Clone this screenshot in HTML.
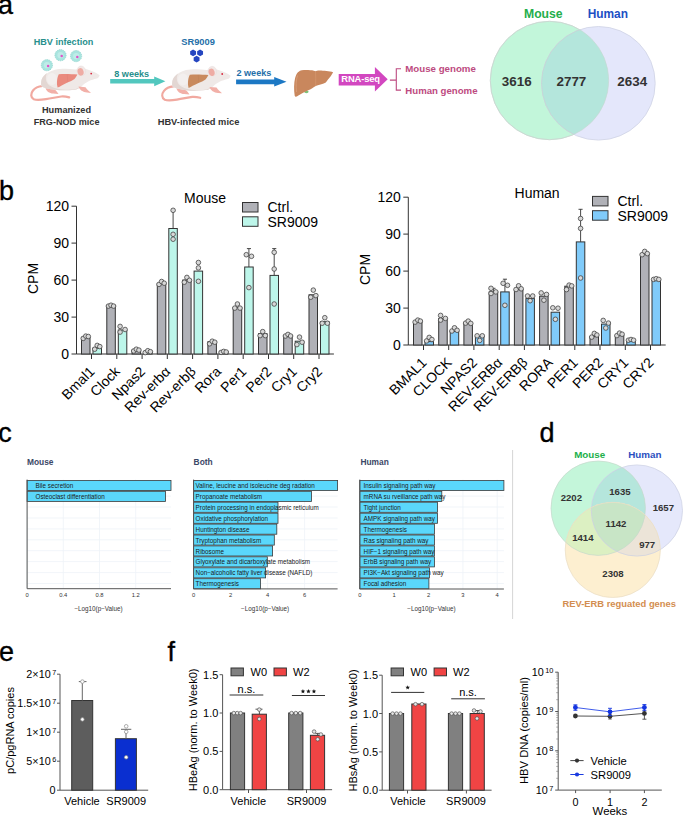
<!DOCTYPE html>
<html><head><meta charset="utf-8"><style>
html,body{margin:0;padding:0;background:#fff;overflow:hidden;}
svg{display:block;}
text{font-family:"Liberation Sans", sans-serif;}
</style></head><body>
<svg width="685" height="815" viewBox="0 0 685 815" font-family="Liberation Sans, sans-serif">
<rect width="685" height="815" fill="#fff"/>
<text x="-2.0" y="13.9" font-size="27" text-anchor="start" font-weight="normal" fill="#000" stroke="#000" stroke-width="0.35">a</text>
<text x="-1.0" y="199.5" font-size="27" text-anchor="start" font-weight="normal" fill="#000" stroke="#000" stroke-width="0.35">b</text>
<text x="-1.8" y="441.7" font-size="27" text-anchor="start" font-weight="normal" fill="#000" stroke="#000" stroke-width="0.35">c</text>
<text x="539.5" y="441.7" font-size="27" text-anchor="start" font-weight="normal" fill="#000" stroke="#000" stroke-width="0.35">d</text>
<text x="-1.0" y="661.0" font-size="27" text-anchor="start" font-weight="normal" fill="#000" stroke="#000" stroke-width="0.35">e</text>
<text x="167.5" y="660.5" font-size="27" text-anchor="start" font-weight="normal" fill="#000" stroke="#000" stroke-width="0.35">f</text>
<text x="63.5" y="45.3" font-size="9.1" text-anchor="middle" font-weight="bold" fill="#278f8c" >HBV infection</text>
<circle cx="46.9" cy="65.2" r="5.6" fill="#a9e4df" stroke="#8fd3cc" stroke-width="0.8" stroke-dasharray="1.2 0.8"/>
<circle cx="46.9" cy="65.2" r="3.08" fill="#bfece8"/>
<circle cx="48.1" cy="66.0" r="1.25" fill="#e052c8"/>
<circle cx="60.5" cy="55.2" r="5.6" fill="#a9e4df" stroke="#8fd3cc" stroke-width="0.8" stroke-dasharray="1.2 0.8"/>
<circle cx="60.5" cy="55.2" r="3.08" fill="#bfece8"/>
<circle cx="61.7" cy="56.0" r="1.25" fill="#e052c8"/>
<circle cx="76.1" cy="56.1" r="5.6" fill="#a9e4df" stroke="#8fd3cc" stroke-width="0.8" stroke-dasharray="1.2 0.8"/>
<circle cx="76.1" cy="56.1" r="3.08" fill="#bfece8"/>
<circle cx="77.3" cy="56.9" r="1.25" fill="#e052c8"/>
<g transform="translate(0,0)">
<path d="M42.5,86 C38,86.5 35,88 33,90.5 C30.5,93.5 30.5,97.5 33.8,99.3 C37,100.5 42,99.8 46,99.2 C52,98.3 57,97 61.3,96.5 C64,96.3 67,96.8 69.2,97.4" fill="none" stroke="#f1a9a0" stroke-width="2.2" stroke-linecap="round"/>
<path d="M45.5,87.5 C46,91.5 49.5,93.3 53,93.6 L58.6,94 C57.5,92.2 56,90.6 54.5,89 Z" fill="#f2b0a8"/>
<path d="M41.3,85.9 C40.5,81 41.5,78.5 43.5,77 C46,73.5 50,71 55,69.7 C60,68.7 68,68.5 75.7,69.5 C78,68.8 80,68.5 82,69 C84,68.5 86,68.8 87.5,69.5 C91,70.5 96,72.5 99.6,75.3 C99.2,77 97.8,78.3 96.8,78.6 C94,79.5 91,80 89,81 C86,82.5 84,84 82,86 C80,88 77,89.5 74.6,89.7 C68,90.5 61,90.5 55,89.8 C49,89 44,88 41.3,85.9 Z" fill="#efe9e7"/>
<path d="M41.3,85.9 C40.6,80 42.5,76 47,73 C45,77.5 45.5,82 49.5,85.5 C54,88.5 61,89.6 68,89.8 C74,89.8 78,88.5 81,86.5 C79,88.5 77,89.5 74.6,89.7 C68,90.5 61,90.5 55,89.8 C49,89 44,88 41.3,85.9 Z" fill="#e3d7d3"/>
<ellipse cx="52" cy="79" rx="5" ry="6" fill="#f3efee"/>
<path d="M58.8,74.3 C65,73.9 72,74.2 77.4,74.6 C76.5,76.5 75.5,78 74.5,79 C72.5,80.5 70,81.5 67.5,82.5 C65.5,83.5 63.5,84.5 61.7,85.4 C60.3,86.2 59,87 57.6,87.5 C57,85.5 56.8,83.5 57,81.4 C57.2,79 57.6,76.5 58.8,74.3 Z" fill="#ea8a7e"/>
<path d="M67.2,74.3 C67.6,77 67.6,80 67.3,82.5" fill="none" stroke="#000" stroke-opacity="0.06" stroke-width="0.6"/>
<path d="M78.5,86.5 C79.5,90 83,92 87,92.6 L91,92.9 C89.5,91.5 87,89.8 85.5,87.2 Z" fill="#f2b0a8"/>
<ellipse cx="81.4" cy="70.8" rx="4.2" ry="4.9" fill="#f1e8e7" stroke="#e6dcda" stroke-width="0.4" transform="rotate(-15 81.4 70.8)"/>
<ellipse cx="80.6" cy="71.9" rx="3.0" ry="3.8" fill="#eeaca4" transform="rotate(-15 80.6 71.9)"/>
<circle cx="91.2" cy="73.6" r="0.9" fill="#d8283e"/>
</g>
<text x="66.5" y="112.8" font-size="9.2" text-anchor="middle" font-weight="bold" fill="#333" >Humanized</text>
<text x="66.6" y="125.4" font-size="9.1" text-anchor="middle" font-weight="bold" fill="#333" >FRG-NOD mice</text>
<path d="M110.2,79 L154.2,79 L154.2,76.6 L165.4,81.3 L154.2,86.2 L154.2,83.6 L110.2,83.6 Z" fill="#52c7be"/>
<text x="131.7" y="77.0" font-size="9.1" text-anchor="middle" font-weight="bold" fill="#278f8c" >8 weeks</text>
<text x="198.1" y="45.3" font-size="9.3" text-anchor="middle" font-weight="bold" fill="#1f6fa8" >SR9009</text>
<polygon points="196.04,54.60 193.10,56.30 190.16,54.60 190.16,51.20 193.10,49.50 196.04,51.20" fill="#2546c0"/>
<polygon points="203.04,54.60 200.10,56.30 197.16,54.60 197.16,51.20 200.10,49.50 203.04,51.20" fill="#2546c0"/>
<polygon points="199.54,60.80 196.60,62.50 193.66,60.80 193.66,57.40 196.60,55.70 199.54,57.40" fill="#2546c0"/>
<g transform="translate(131,0.4)">
<path d="M42.5,86 C38,86.5 35,88 33,90.5 C30.5,93.5 30.5,97.5 33.8,99.3 C37,100.5 42,99.8 46,99.2 C52,98.3 57,97 61.3,96.5 C64,96.3 67,96.8 69.2,97.4" fill="none" stroke="#f1a9a0" stroke-width="2.2" stroke-linecap="round"/>
<path d="M45.5,87.5 C46,91.5 49.5,93.3 53,93.6 L58.6,94 C57.5,92.2 56,90.6 54.5,89 Z" fill="#f2b0a8"/>
<path d="M41.3,85.9 C40.5,81 41.5,78.5 43.5,77 C46,73.5 50,71 55,69.7 C60,68.7 68,68.5 75.7,69.5 C78,68.8 80,68.5 82,69 C84,68.5 86,68.8 87.5,69.5 C91,70.5 96,72.5 99.6,75.3 C99.2,77 97.8,78.3 96.8,78.6 C94,79.5 91,80 89,81 C86,82.5 84,84 82,86 C80,88 77,89.5 74.6,89.7 C68,90.5 61,90.5 55,89.8 C49,89 44,88 41.3,85.9 Z" fill="#efe9e7"/>
<path d="M41.3,85.9 C40.6,80 42.5,76 47,73 C45,77.5 45.5,82 49.5,85.5 C54,88.5 61,89.6 68,89.8 C74,89.8 78,88.5 81,86.5 C79,88.5 77,89.5 74.6,89.7 C68,90.5 61,90.5 55,89.8 C49,89 44,88 41.3,85.9 Z" fill="#e3d7d3"/>
<ellipse cx="52" cy="79" rx="5" ry="6" fill="#f3efee"/>
<path d="M58.8,74.3 C65,73.9 72,74.2 77.4,74.6 C76.5,76.5 75.5,78 74.5,79 C72.5,80.5 70,81.5 67.5,82.5 C65.5,83.5 63.5,84.5 61.7,85.4 C60.3,86.2 59,87 57.6,87.5 C57,85.5 56.8,83.5 57,81.4 C57.2,79 57.6,76.5 58.8,74.3 Z" fill="#c98a5e"/>
<path d="M67.2,74.3 C67.6,77 67.6,80 67.3,82.5" fill="none" stroke="#000" stroke-opacity="0.06" stroke-width="0.6"/>
<path d="M78.5,86.5 C79.5,90 83,92 87,92.6 L91,92.9 C89.5,91.5 87,89.8 85.5,87.2 Z" fill="#f2b0a8"/>
<ellipse cx="81.4" cy="70.8" rx="4.2" ry="4.9" fill="#f1e8e7" stroke="#e6dcda" stroke-width="0.4" transform="rotate(-15 81.4 70.8)"/>
<ellipse cx="80.6" cy="71.9" rx="3.0" ry="3.8" fill="#eeaca4" transform="rotate(-15 80.6 71.9)"/>
<circle cx="91.2" cy="73.6" r="0.9" fill="#d8283e"/>
</g>
<text x="198.5" y="124.8" font-size="9.3" text-anchor="middle" font-weight="bold" fill="#333" >HBV-infected mice</text>
<path d="M236.1,79.4 L274.2,79.4 L274.2,77 L286.5,81.8 L274.2,86.6 L274.2,84.2 L236.1,84.2 Z" fill="#1c78c4"/>
<text x="253.9" y="76.0" font-size="9.1" text-anchor="middle" font-weight="bold" fill="#1f6fa8" >2 weeks</text>
<ellipse cx="306.4" cy="91.8" rx="2.2" ry="1.4" fill="#7cc37a"/>
<path d="M294.7,95.7 C293.8,90 293.9,83 295.1,78.1 C296,75 297,73 298,72.3 C299.5,71 300.5,70.5 301.7,70.3 C304,69.9 306,69.9 308.2,70 C311,70.2 313.5,70.4 315.5,71.2 C316.5,70.7 317.5,70.5 319.2,70.5 C322,70.5 324,70.7 326.5,71 C329,71.3 331.5,71.6 333.1,72.3 C332.5,73.5 331.8,74.8 330.9,76 C330,77.3 329,78.5 328,79.6 C327.3,80.7 326.6,81.8 325.8,82.5 C324.5,83.3 323,83.9 321.4,84.3 C319.5,84.8 317.9,85.3 316.3,85.8 C314.7,86.6 313.3,87.5 311.9,88.4 C310.7,89.1 309.5,89.8 308.2,90.3 C306.5,91 304.8,91.8 303.1,92.7 C301.4,93.6 299.7,94.7 298,95.7 C297.2,96.2 296.4,96.6 295.5,96.8 C295.1,96.5 294.8,96.1 294.7,95.7 Z" fill="#c9875d"/>
<path d="M315.5,71.4 C315.8,76 315.8,81 315.6,86" fill="none" stroke="#d69a72" stroke-width="0.6"/>
<path d="M296.5,92 C295.8,86 296,80 297.5,75.5" fill="none" stroke="#d9a07a" stroke-width="0.8"/>
<path d="M338.7,73.9 L374.9,73.9 L374.9,66.9 L387.7,79.2 L374.9,91.4 L374.9,85.5 L338.7,85.5 Z" fill="#d247c0"/>
<text x="360.6" y="82.4" font-size="9.4" text-anchor="middle" font-weight="bold" fill="#fff" letter-spacing="-0.15">RNA-seq</text>
<path d="M389.9,80.1 L396.3,80.1 M401,68.8 L396.3,68.8 L396.3,90.1 L401,90.1" fill="none" stroke="#bd4a80" stroke-width="1.1"/>
<text x="405.3" y="71.9" font-size="9.7" text-anchor="start" font-weight="bold" fill="#bd4a80" >Mouse genome</text>
<text x="405.3" y="93.6" font-size="9.65" text-anchor="start" font-weight="bold" fill="#bd4a80" >Human genome</text>
<circle cx="549.5" cy="80.5" r="59.2" fill="#c2f6da" stroke="#cfd8d4" stroke-width="0.8"/>
<circle cx="598.4" cy="83.3" r="56.8" fill="#e4e7fb" fill-opacity="1" stroke="#cfd3e4" stroke-width="0.8"/>
<clipPath id="cg"><circle cx="549.5" cy="80.5" r="59.2"/></clipPath>
<circle cx="598.4" cy="83.3" r="56.8" fill="#b4e6dc" clip-path="url(#cg)" stroke="#c8d4d4" stroke-width="0.8"/>
<circle cx="549.5" cy="80.5" r="59.2" fill="none" stroke="#c8d6d0" stroke-width="0.6"/>
<text x="543.3" y="18.2" font-size="12.2" text-anchor="middle" font-weight="bold" fill="#23ae4b" >Mouse</text>
<text x="607.8" y="18.2" font-size="11.9" text-anchor="middle" font-weight="bold" fill="#1c4fc4" >Human</text>
<text x="516.7" y="85.5" font-size="13.4" text-anchor="middle" font-weight="bold" fill="#333" >3616</text>
<text x="571.4" y="85.5" font-size="13.4" text-anchor="middle" font-weight="bold" fill="#333" >2777</text>
<text x="632.2" y="85.5" font-size="13.4" text-anchor="middle" font-weight="bold" fill="#333" >2634</text>
<path d="M76.5,206.2 L76.5,354.0 L333.9,354.0" fill="none" stroke="#333" stroke-width="1"/>
<path d="M71.5,354.0 L76.5,354.0" stroke="#333" stroke-width="1"/>
<text x="69.0" y="359.0" font-size="14" text-anchor="end" font-weight="normal" fill="#000" >0</text>
<path d="M71.5,317.1 L76.5,317.1" stroke="#333" stroke-width="1"/>
<text x="69.0" y="322.1" font-size="14" text-anchor="end" font-weight="normal" fill="#000" >30</text>
<path d="M71.5,280.1 L76.5,280.1" stroke="#333" stroke-width="1"/>
<text x="69.0" y="285.1" font-size="14" text-anchor="end" font-weight="normal" fill="#000" >60</text>
<path d="M71.5,243.1 L76.5,243.1" stroke="#333" stroke-width="1"/>
<text x="69.0" y="248.1" font-size="14" text-anchor="end" font-weight="normal" fill="#000" >90</text>
<path d="M71.5,206.2 L76.5,206.2" stroke="#333" stroke-width="1"/>
<text x="69.0" y="211.2" font-size="14" text-anchor="end" font-weight="normal" fill="#000" >120</text>
<text x="0" y="0" font-size="14" text-anchor="middle" transform="translate(38.0,278.5) rotate(-90)">CPM</text>
<path d="M91.5,354.0 L91.5,359.0" stroke="#333" stroke-width="1"/>
<rect x="81.5" y="337.4" width="8.5" height="16.6" fill="#b0b1b7" stroke="#333" stroke-width="1"/>
<circle cx="83.2" cy="338.4" r="2.3" fill="#d8d8d8" stroke="#444" stroke-width="0.8"/>
<circle cx="85.8" cy="336.1" r="2.3" fill="#d8d8d8" stroke="#444" stroke-width="0.8"/>
<circle cx="88.3" cy="336.5" r="2.3" fill="#d8d8d8" stroke="#444" stroke-width="0.8"/>
<rect x="93.0" y="348.1" width="8.5" height="5.9" fill="#bdf6ea" stroke="#333" stroke-width="1"/>
<circle cx="94.7" cy="349.2" r="2.3" fill="#d8d8d8" stroke="#444" stroke-width="0.8"/>
<circle cx="97.2" cy="345.4" r="2.3" fill="#d8d8d8" stroke="#444" stroke-width="0.8"/>
<circle cx="99.8" cy="346.6" r="2.3" fill="#d8d8d8" stroke="#444" stroke-width="0.8"/>
<text x="0" y="0" font-size="14" text-anchor="end" transform="translate(95.5,372.4) rotate(-45)">Bmal1</text>
<path d="M116.8,354.0 L116.8,359.0" stroke="#333" stroke-width="1"/>
<rect x="106.8" y="305.5" width="8.5" height="48.5" fill="#b0b1b7" stroke="#333" stroke-width="1"/>
<circle cx="108.4" cy="306.1" r="2.3" fill="#d8d8d8" stroke="#444" stroke-width="0.8"/>
<circle cx="111.0" cy="305.2" r="2.3" fill="#d8d8d8" stroke="#444" stroke-width="0.8"/>
<circle cx="113.6" cy="306.1" r="2.3" fill="#d8d8d8" stroke="#444" stroke-width="0.8"/>
<rect x="118.3" y="330.0" width="8.5" height="24.0" fill="#bdf6ea" stroke="#333" stroke-width="1"/>
<circle cx="120.1" cy="326.4" r="2.3" fill="#d8d8d8" stroke="#444" stroke-width="0.8"/>
<circle cx="120.1" cy="332.1" r="2.3" fill="#d8d8d8" stroke="#444" stroke-width="0.8"/>
<circle cx="125.1" cy="329.5" r="2.3" fill="#d8d8d8" stroke="#444" stroke-width="0.8"/>
<text x="0" y="0" font-size="14" text-anchor="end" transform="translate(120.8,372.4) rotate(-45)">Clock</text>
<path d="M142.1,354.0 L142.1,359.0" stroke="#333" stroke-width="1"/>
<rect x="132.1" y="350.1" width="8.5" height="3.9" fill="#b0b1b7" stroke="#333" stroke-width="1"/>
<circle cx="133.7" cy="351.0" r="2.3" fill="#d8d8d8" stroke="#444" stroke-width="0.8"/>
<circle cx="136.3" cy="349.2" r="2.3" fill="#d8d8d8" stroke="#444" stroke-width="0.8"/>
<circle cx="138.9" cy="350.1" r="2.3" fill="#d8d8d8" stroke="#444" stroke-width="0.8"/>
<rect x="143.6" y="351.7" width="8.5" height="2.3" fill="#bdf6ea" stroke="#333" stroke-width="1"/>
<circle cx="145.2" cy="352.6" r="2.3" fill="#d8d8d8" stroke="#444" stroke-width="0.8"/>
<circle cx="147.8" cy="350.7" r="2.3" fill="#d8d8d8" stroke="#444" stroke-width="0.8"/>
<circle cx="150.4" cy="351.7" r="2.3" fill="#d8d8d8" stroke="#444" stroke-width="0.8"/>
<text x="0" y="0" font-size="14" text-anchor="end" transform="translate(146.1,372.4) rotate(-45)">Npas2</text>
<path d="M167.3,354.0 L167.3,359.0" stroke="#333" stroke-width="1"/>
<rect x="157.3" y="283.8" width="8.5" height="70.2" fill="#b0b1b7" stroke="#333" stroke-width="1"/>
<circle cx="159.0" cy="284.4" r="2.3" fill="#d8d8d8" stroke="#444" stroke-width="0.8"/>
<circle cx="161.6" cy="281.5" r="2.3" fill="#d8d8d8" stroke="#444" stroke-width="0.8"/>
<circle cx="164.2" cy="283.2" r="2.3" fill="#d8d8d8" stroke="#444" stroke-width="0.8"/>
<path d="M173.1,228.5 L173.1,210.3 M171.0,210.3 L175.1,210.3" stroke="#333" stroke-width="0.9"/>
<rect x="168.8" y="228.5" width="8.5" height="125.5" fill="#bdf6ea" stroke="#333" stroke-width="1"/>
<circle cx="173.1" cy="210.3" r="2.3" fill="#d8d8d8" stroke="#444" stroke-width="0.8"/>
<circle cx="173.1" cy="234.3" r="2.3" fill="#d8d8d8" stroke="#444" stroke-width="0.8"/>
<circle cx="173.1" cy="239.2" r="2.3" fill="#d8d8d8" stroke="#444" stroke-width="0.8"/>
<text x="0" y="0" font-size="14" text-anchor="end" transform="translate(171.3,372.4) rotate(-45)">Rev-erbα</text>
<path d="M192.6,354.0 L192.6,359.0" stroke="#333" stroke-width="1"/>
<rect x="182.6" y="280.1" width="8.5" height="73.9" fill="#b0b1b7" stroke="#333" stroke-width="1"/>
<circle cx="184.3" cy="282.2" r="2.3" fill="#d8d8d8" stroke="#444" stroke-width="0.8"/>
<circle cx="186.9" cy="277.4" r="2.3" fill="#d8d8d8" stroke="#444" stroke-width="0.8"/>
<circle cx="189.5" cy="280.3" r="2.3" fill="#d8d8d8" stroke="#444" stroke-width="0.8"/>
<rect x="194.1" y="271.1" width="8.5" height="82.9" fill="#bdf6ea" stroke="#333" stroke-width="1"/>
<circle cx="198.4" cy="262.5" r="2.3" fill="#d8d8d8" stroke="#444" stroke-width="0.8"/>
<circle cx="198.4" cy="267.9" r="2.3" fill="#d8d8d8" stroke="#444" stroke-width="0.8"/>
<circle cx="198.4" cy="281.3" r="2.3" fill="#d8d8d8" stroke="#444" stroke-width="0.8"/>
<text x="0" y="0" font-size="14" text-anchor="end" transform="translate(196.6,372.4) rotate(-45)">Rev-erbβ</text>
<path d="M217.9,354.0 L217.9,359.0" stroke="#333" stroke-width="1"/>
<rect x="207.9" y="341.7" width="8.5" height="12.3" fill="#b0b1b7" stroke="#333" stroke-width="1"/>
<circle cx="209.6" cy="343.8" r="2.3" fill="#d8d8d8" stroke="#444" stroke-width="0.8"/>
<circle cx="212.2" cy="341.2" r="2.3" fill="#d8d8d8" stroke="#444" stroke-width="0.8"/>
<circle cx="214.8" cy="342.2" r="2.3" fill="#d8d8d8" stroke="#444" stroke-width="0.8"/>
<rect x="219.4" y="351.5" width="8.5" height="2.5" fill="#bdf6ea" stroke="#333" stroke-width="1"/>
<circle cx="221.1" cy="352.4" r="2.3" fill="#d8d8d8" stroke="#444" stroke-width="0.8"/>
<circle cx="223.7" cy="351.4" r="2.3" fill="#d8d8d8" stroke="#444" stroke-width="0.8"/>
<circle cx="226.2" cy="352.0" r="2.3" fill="#d8d8d8" stroke="#444" stroke-width="0.8"/>
<text x="0" y="0" font-size="14" text-anchor="end" transform="translate(221.9,372.4) rotate(-45)">Rora</text>
<path d="M243.2,354.0 L243.2,359.0" stroke="#333" stroke-width="1"/>
<rect x="233.2" y="307.4" width="8.5" height="46.6" fill="#b0b1b7" stroke="#333" stroke-width="1"/>
<circle cx="234.8" cy="308.1" r="2.3" fill="#d8d8d8" stroke="#444" stroke-width="0.8"/>
<circle cx="237.4" cy="304.0" r="2.3" fill="#d8d8d8" stroke="#444" stroke-width="0.8"/>
<circle cx="240.0" cy="308.1" r="2.3" fill="#d8d8d8" stroke="#444" stroke-width="0.8"/>
<path d="M248.9,267.0 L248.9,248.6 M246.9,248.6 L251.0,248.6" stroke="#333" stroke-width="0.9"/>
<rect x="244.7" y="267.0" width="8.5" height="87.0" fill="#bdf6ea" stroke="#333" stroke-width="1"/>
<circle cx="246.3" cy="254.7" r="2.3" fill="#d8d8d8" stroke="#444" stroke-width="0.8"/>
<circle cx="251.5" cy="256.3" r="2.3" fill="#d8d8d8" stroke="#444" stroke-width="0.8"/>
<circle cx="248.9" cy="287.6" r="2.3" fill="#d8d8d8" stroke="#444" stroke-width="0.8"/>
<text x="0" y="0" font-size="14" text-anchor="end" transform="translate(247.2,372.4) rotate(-45)">Per1</text>
<path d="M268.5,354.0 L268.5,359.0" stroke="#333" stroke-width="1"/>
<rect x="258.5" y="333.6" width="8.5" height="20.4" fill="#b0b1b7" stroke="#333" stroke-width="1"/>
<circle cx="260.1" cy="335.6" r="2.3" fill="#d8d8d8" stroke="#444" stroke-width="0.8"/>
<circle cx="262.7" cy="331.6" r="2.3" fill="#d8d8d8" stroke="#444" stroke-width="0.8"/>
<circle cx="265.3" cy="335.6" r="2.3" fill="#d8d8d8" stroke="#444" stroke-width="0.8"/>
<path d="M274.2,275.4 L274.2,248.6 M272.2,248.6 L276.3,248.6" stroke="#333" stroke-width="0.9"/>
<rect x="270.0" y="275.4" width="8.5" height="78.6" fill="#bdf6ea" stroke="#333" stroke-width="1"/>
<circle cx="274.2" cy="252.3" r="2.3" fill="#d8d8d8" stroke="#444" stroke-width="0.8"/>
<circle cx="274.2" cy="269.0" r="2.3" fill="#d8d8d8" stroke="#444" stroke-width="0.8"/>
<circle cx="274.2" cy="304.0" r="2.3" fill="#d8d8d8" stroke="#444" stroke-width="0.8"/>
<text x="0" y="0" font-size="14" text-anchor="end" transform="translate(272.5,372.4) rotate(-45)">Per2</text>
<path d="M293.7,354.0 L293.7,359.0" stroke="#333" stroke-width="1"/>
<rect x="283.7" y="335.5" width="8.5" height="18.5" fill="#b0b1b7" stroke="#333" stroke-width="1"/>
<circle cx="285.4" cy="336.0" r="2.3" fill="#d8d8d8" stroke="#444" stroke-width="0.8"/>
<circle cx="288.0" cy="334.4" r="2.3" fill="#d8d8d8" stroke="#444" stroke-width="0.8"/>
<circle cx="290.6" cy="336.0" r="2.3" fill="#d8d8d8" stroke="#444" stroke-width="0.8"/>
<rect x="295.2" y="341.2" width="8.5" height="12.8" fill="#bdf6ea" stroke="#333" stroke-width="1"/>
<circle cx="296.9" cy="344.6" r="2.3" fill="#d8d8d8" stroke="#444" stroke-width="0.8"/>
<circle cx="299.5" cy="337.1" r="2.3" fill="#d8d8d8" stroke="#444" stroke-width="0.8"/>
<circle cx="302.1" cy="342.2" r="2.3" fill="#d8d8d8" stroke="#444" stroke-width="0.8"/>
<text x="0" y="0" font-size="14" text-anchor="end" transform="translate(297.7,372.4) rotate(-45)">Cry1</text>
<path d="M319.0,354.0 L319.0,359.0" stroke="#333" stroke-width="1"/>
<rect x="309.0" y="294.8" width="8.5" height="59.2" fill="#b0b1b7" stroke="#333" stroke-width="1"/>
<circle cx="310.7" cy="297.2" r="2.3" fill="#d8d8d8" stroke="#444" stroke-width="0.8"/>
<circle cx="313.3" cy="290.1" r="2.3" fill="#d8d8d8" stroke="#444" stroke-width="0.8"/>
<circle cx="315.9" cy="295.6" r="2.3" fill="#d8d8d8" stroke="#444" stroke-width="0.8"/>
<rect x="320.5" y="321.7" width="8.5" height="32.3" fill="#bdf6ea" stroke="#333" stroke-width="1"/>
<circle cx="322.2" cy="323.2" r="2.3" fill="#d8d8d8" stroke="#444" stroke-width="0.8"/>
<circle cx="324.8" cy="317.7" r="2.3" fill="#d8d8d8" stroke="#444" stroke-width="0.8"/>
<circle cx="327.4" cy="323.2" r="2.3" fill="#d8d8d8" stroke="#444" stroke-width="0.8"/>
<text x="0" y="0" font-size="14" text-anchor="end" transform="translate(323.0,372.4) rotate(-45)">Cry2</text>
<text x="205.0" y="203.1" font-size="14" text-anchor="middle" font-weight="normal" fill="#000" >Mouse</text>
<rect x="242.5" y="202.5" width="15.5" height="9.5" fill="#b0b1b7" stroke="#333" stroke-width="1"/>
<rect x="242.5" y="216.8" width="15.5" height="9.5" fill="#bdf6ea" stroke="#333" stroke-width="1"/>
<text x="267.5" y="212.3" font-size="14" text-anchor="start" font-weight="normal" fill="#000" >Ctrl.</text>
<text x="267.5" y="226.6" font-size="14" text-anchor="start" font-weight="normal" fill="#000" >SR9009</text>
<path d="M408.3,197.2 L408.3,345.0 L665.7,345.0" fill="none" stroke="#333" stroke-width="1"/>
<path d="M403.3,345.0 L408.3,345.0" stroke="#333" stroke-width="1"/>
<text x="400.8" y="350.0" font-size="14" text-anchor="end" font-weight="normal" fill="#000" >0</text>
<path d="M403.3,308.1 L408.3,308.1" stroke="#333" stroke-width="1"/>
<text x="400.8" y="313.1" font-size="14" text-anchor="end" font-weight="normal" fill="#000" >30</text>
<path d="M403.3,271.1 L408.3,271.1" stroke="#333" stroke-width="1"/>
<text x="400.8" y="276.1" font-size="14" text-anchor="end" font-weight="normal" fill="#000" >60</text>
<path d="M403.3,234.1 L408.3,234.1" stroke="#333" stroke-width="1"/>
<text x="400.8" y="239.1" font-size="14" text-anchor="end" font-weight="normal" fill="#000" >90</text>
<path d="M403.3,197.2 L408.3,197.2" stroke="#333" stroke-width="1"/>
<text x="400.8" y="202.2" font-size="14" text-anchor="end" font-weight="normal" fill="#000" >120</text>
<text x="0" y="0" font-size="14" text-anchor="middle" transform="translate(369.8,269.5) rotate(-90)">CPM</text>
<path d="M423.5,345.0 L423.5,350.0" stroke="#333" stroke-width="1"/>
<rect x="413.5" y="322.1" width="8.5" height="22.9" fill="#b0b1b7" stroke="#333" stroke-width="1"/>
<circle cx="415.1" cy="322.1" r="2.3" fill="#d8d8d8" stroke="#444" stroke-width="0.8"/>
<circle cx="417.8" cy="320.1" r="2.3" fill="#d8d8d8" stroke="#444" stroke-width="0.8"/>
<circle cx="420.4" cy="321.1" r="2.3" fill="#d8d8d8" stroke="#444" stroke-width="0.8"/>
<rect x="425.0" y="341.6" width="8.5" height="3.4" fill="#80cbfa" stroke="#333" stroke-width="1"/>
<circle cx="426.6" cy="340.9" r="2.3" fill="#d8d8d8" stroke="#444" stroke-width="0.8"/>
<circle cx="429.2" cy="337.4" r="2.3" fill="#d8d8d8" stroke="#444" stroke-width="0.8"/>
<circle cx="431.9" cy="339.5" r="2.3" fill="#d8d8d8" stroke="#444" stroke-width="0.8"/>
<text x="0" y="0" font-size="14" text-anchor="end" transform="translate(427.5,363.4) rotate(-45)">BMAL1</text>
<path d="M448.7,345.0 L448.7,350.0" stroke="#333" stroke-width="1"/>
<rect x="438.7" y="318.4" width="8.5" height="26.6" fill="#b0b1b7" stroke="#333" stroke-width="1"/>
<circle cx="440.6" cy="315.4" r="2.3" fill="#d8d8d8" stroke="#444" stroke-width="0.8"/>
<circle cx="440.6" cy="320.1" r="2.3" fill="#d8d8d8" stroke="#444" stroke-width="0.8"/>
<circle cx="445.4" cy="318.4" r="2.3" fill="#d8d8d8" stroke="#444" stroke-width="0.8"/>
<rect x="450.2" y="331.3" width="8.5" height="13.7" fill="#80cbfa" stroke="#333" stroke-width="1"/>
<circle cx="451.9" cy="331.0" r="2.3" fill="#d8d8d8" stroke="#444" stroke-width="0.8"/>
<circle cx="454.5" cy="327.8" r="2.3" fill="#d8d8d8" stroke="#444" stroke-width="0.8"/>
<circle cx="457.1" cy="330.3" r="2.3" fill="#d8d8d8" stroke="#444" stroke-width="0.8"/>
<text x="0" y="0" font-size="14" text-anchor="end" transform="translate(452.7,363.4) rotate(-45)">CLOCK</text>
<path d="M473.9,345.0 L473.9,350.0" stroke="#333" stroke-width="1"/>
<rect x="463.9" y="323.4" width="8.5" height="21.6" fill="#b0b1b7" stroke="#333" stroke-width="1"/>
<circle cx="465.6" cy="323.1" r="2.3" fill="#d8d8d8" stroke="#444" stroke-width="0.8"/>
<circle cx="468.2" cy="321.1" r="2.3" fill="#d8d8d8" stroke="#444" stroke-width="0.8"/>
<circle cx="470.8" cy="323.4" r="2.3" fill="#d8d8d8" stroke="#444" stroke-width="0.8"/>
<rect x="475.4" y="336.4" width="8.5" height="8.6" fill="#80cbfa" stroke="#333" stroke-width="1"/>
<circle cx="477.1" cy="335.8" r="2.3" fill="#d8d8d8" stroke="#444" stroke-width="0.8"/>
<circle cx="479.7" cy="340.4" r="2.3" fill="#d8d8d8" stroke="#444" stroke-width="0.8"/>
<circle cx="482.3" cy="335.8" r="2.3" fill="#d8d8d8" stroke="#444" stroke-width="0.8"/>
<text x="0" y="0" font-size="14" text-anchor="end" transform="translate(477.9,363.4) rotate(-45)">NPAS2</text>
<path d="M499.2,345.0 L499.2,350.0" stroke="#333" stroke-width="1"/>
<path d="M493.4,291.9 L493.4,288.3 M491.4,288.3 L495.5,288.3" stroke="#333" stroke-width="0.9"/>
<rect x="489.2" y="291.9" width="8.5" height="53.1" fill="#b0b1b7" stroke="#333" stroke-width="1"/>
<circle cx="491.0" cy="288.3" r="2.3" fill="#d8d8d8" stroke="#444" stroke-width="0.8"/>
<circle cx="491.0" cy="293.5" r="2.3" fill="#d8d8d8" stroke="#444" stroke-width="0.8"/>
<circle cx="495.8" cy="291.9" r="2.3" fill="#d8d8d8" stroke="#444" stroke-width="0.8"/>
<path d="M504.9,291.9 L504.9,279.2 M502.9,279.2 L507.0,279.2" stroke="#333" stroke-width="0.9"/>
<rect x="500.7" y="291.9" width="8.5" height="53.1" fill="#80cbfa" stroke="#333" stroke-width="1"/>
<circle cx="503.1" cy="283.3" r="2.3" fill="#d8d8d8" stroke="#444" stroke-width="0.8"/>
<circle cx="507.5" cy="285.3" r="2.3" fill="#d8d8d8" stroke="#444" stroke-width="0.8"/>
<circle cx="504.9" cy="305.3" r="2.3" fill="#d8d8d8" stroke="#444" stroke-width="0.8"/>
<text x="0" y="0" font-size="14" text-anchor="end" transform="translate(503.2,363.4) rotate(-45)">REV-ERBα</text>
<path d="M524.4,345.0 L524.4,350.0" stroke="#333" stroke-width="1"/>
<rect x="514.4" y="289.5" width="8.5" height="55.5" fill="#b0b1b7" stroke="#333" stroke-width="1"/>
<circle cx="516.0" cy="289.5" r="2.3" fill="#d8d8d8" stroke="#444" stroke-width="0.8"/>
<circle cx="518.6" cy="285.8" r="2.3" fill="#d8d8d8" stroke="#444" stroke-width="0.8"/>
<circle cx="521.2" cy="288.8" r="2.3" fill="#d8d8d8" stroke="#444" stroke-width="0.8"/>
<rect x="525.9" y="298.6" width="8.5" height="46.4" fill="#80cbfa" stroke="#333" stroke-width="1"/>
<circle cx="527.5" cy="296.0" r="2.3" fill="#d8d8d8" stroke="#444" stroke-width="0.8"/>
<circle cx="530.1" cy="300.7" r="2.3" fill="#d8d8d8" stroke="#444" stroke-width="0.8"/>
<circle cx="532.7" cy="296.0" r="2.3" fill="#d8d8d8" stroke="#444" stroke-width="0.8"/>
<text x="0" y="0" font-size="14" text-anchor="end" transform="translate(528.4,363.4) rotate(-45)">REV-ERBβ</text>
<path d="M549.6,345.0 L549.6,350.0" stroke="#333" stroke-width="1"/>
<rect x="539.6" y="296.2" width="8.5" height="48.8" fill="#b0b1b7" stroke="#333" stroke-width="1"/>
<circle cx="541.2" cy="292.9" r="2.3" fill="#d8d8d8" stroke="#444" stroke-width="0.8"/>
<circle cx="543.9" cy="300.2" r="2.3" fill="#d8d8d8" stroke="#444" stroke-width="0.8"/>
<circle cx="546.5" cy="294.4" r="2.3" fill="#d8d8d8" stroke="#444" stroke-width="0.8"/>
<rect x="551.1" y="312.2" width="8.5" height="32.8" fill="#80cbfa" stroke="#333" stroke-width="1"/>
<circle cx="552.8" cy="307.8" r="2.3" fill="#d8d8d8" stroke="#444" stroke-width="0.8"/>
<circle cx="555.4" cy="319.3" r="2.3" fill="#d8d8d8" stroke="#444" stroke-width="0.8"/>
<circle cx="558.0" cy="308.2" r="2.3" fill="#d8d8d8" stroke="#444" stroke-width="0.8"/>
<text x="0" y="0" font-size="14" text-anchor="end" transform="translate(553.6,363.4) rotate(-45)">RORA</text>
<path d="M574.8,345.0 L574.8,350.0" stroke="#333" stroke-width="1"/>
<rect x="564.8" y="286.2" width="8.5" height="58.8" fill="#b0b1b7" stroke="#333" stroke-width="1"/>
<circle cx="566.5" cy="289.6" r="2.3" fill="#d8d8d8" stroke="#444" stroke-width="0.8"/>
<circle cx="569.1" cy="285.1" r="2.3" fill="#d8d8d8" stroke="#444" stroke-width="0.8"/>
<circle cx="571.7" cy="285.9" r="2.3" fill="#d8d8d8" stroke="#444" stroke-width="0.8"/>
<path d="M580.6,241.9 L580.6,209.3 M578.5,209.3 L582.6,209.3" stroke="#333" stroke-width="0.9"/>
<rect x="576.3" y="241.9" width="8.5" height="103.1" fill="#80cbfa" stroke="#333" stroke-width="1"/>
<circle cx="580.6" cy="218.5" r="2.3" fill="#d8d8d8" stroke="#444" stroke-width="0.8"/>
<circle cx="580.6" cy="228.4" r="2.3" fill="#d8d8d8" stroke="#444" stroke-width="0.8"/>
<circle cx="580.6" cy="278.0" r="2.3" fill="#d8d8d8" stroke="#444" stroke-width="0.8"/>
<text x="0" y="0" font-size="14" text-anchor="end" transform="translate(578.8,363.4) rotate(-45)">PER1</text>
<path d="M600.0,345.0 L600.0,350.0" stroke="#333" stroke-width="1"/>
<rect x="590.0" y="336.6" width="8.5" height="8.4" fill="#b0b1b7" stroke="#333" stroke-width="1"/>
<circle cx="591.7" cy="337.1" r="2.3" fill="#d8d8d8" stroke="#444" stroke-width="0.8"/>
<circle cx="594.3" cy="333.4" r="2.3" fill="#d8d8d8" stroke="#444" stroke-width="0.8"/>
<circle cx="596.9" cy="335.0" r="2.3" fill="#d8d8d8" stroke="#444" stroke-width="0.8"/>
<rect x="601.5" y="324.1" width="8.5" height="20.9" fill="#80cbfa" stroke="#333" stroke-width="1"/>
<circle cx="603.2" cy="320.4" r="2.3" fill="#d8d8d8" stroke="#444" stroke-width="0.8"/>
<circle cx="605.8" cy="328.0" r="2.3" fill="#d8d8d8" stroke="#444" stroke-width="0.8"/>
<circle cx="608.4" cy="323.1" r="2.3" fill="#d8d8d8" stroke="#444" stroke-width="0.8"/>
<text x="0" y="0" font-size="14" text-anchor="end" transform="translate(604.0,363.4) rotate(-45)">PER2</text>
<path d="M625.3,345.0 L625.3,350.0" stroke="#333" stroke-width="1"/>
<rect x="615.3" y="335.6" width="8.5" height="9.4" fill="#b0b1b7" stroke="#333" stroke-width="1"/>
<circle cx="616.9" cy="335.6" r="2.3" fill="#d8d8d8" stroke="#444" stroke-width="0.8"/>
<circle cx="619.5" cy="333.1" r="2.3" fill="#d8d8d8" stroke="#444" stroke-width="0.8"/>
<circle cx="622.1" cy="334.2" r="2.3" fill="#d8d8d8" stroke="#444" stroke-width="0.8"/>
<rect x="626.8" y="341.3" width="8.5" height="3.7" fill="#80cbfa" stroke="#333" stroke-width="1"/>
<circle cx="628.4" cy="340.2" r="2.3" fill="#d8d8d8" stroke="#444" stroke-width="0.8"/>
<circle cx="631.0" cy="339.5" r="2.3" fill="#d8d8d8" stroke="#444" stroke-width="0.8"/>
<circle cx="633.6" cy="340.2" r="2.3" fill="#d8d8d8" stroke="#444" stroke-width="0.8"/>
<text x="0" y="0" font-size="14" text-anchor="end" transform="translate(629.3,363.4) rotate(-45)">CRY1</text>
<path d="M650.5,345.0 L650.5,350.0" stroke="#333" stroke-width="1"/>
<rect x="640.5" y="254.0" width="8.5" height="91.0" fill="#b0b1b7" stroke="#333" stroke-width="1"/>
<circle cx="642.1" cy="254.7" r="2.3" fill="#d8d8d8" stroke="#444" stroke-width="0.8"/>
<circle cx="644.7" cy="251.4" r="2.3" fill="#d8d8d8" stroke="#444" stroke-width="0.8"/>
<circle cx="647.3" cy="253.6" r="2.3" fill="#d8d8d8" stroke="#444" stroke-width="0.8"/>
<rect x="652.0" y="280.2" width="8.5" height="64.8" fill="#80cbfa" stroke="#333" stroke-width="1"/>
<circle cx="653.6" cy="279.4" r="2.3" fill="#d8d8d8" stroke="#444" stroke-width="0.8"/>
<circle cx="656.2" cy="278.7" r="2.3" fill="#d8d8d8" stroke="#444" stroke-width="0.8"/>
<circle cx="658.8" cy="279.4" r="2.3" fill="#d8d8d8" stroke="#444" stroke-width="0.8"/>
<text x="0" y="0" font-size="14" text-anchor="end" transform="translate(654.5,363.4) rotate(-45)">CRY2</text>
<text x="537.1" y="197.8" font-size="14" text-anchor="middle" font-weight="normal" fill="#000" >Human</text>
<rect x="592.5" y="196.4" width="15.5" height="9.5" fill="#b0b1b7" stroke="#333" stroke-width="1"/>
<rect x="592.5" y="210.70000000000002" width="15.5" height="9.5" fill="#80cbfa" stroke="#333" stroke-width="1"/>
<text x="617.5" y="206.2" font-size="14" text-anchor="start" font-weight="normal" fill="#000" >Ctrl.</text>
<text x="617.5" y="220.5" font-size="14" text-anchor="start" font-weight="normal" fill="#000" >SR9009</text>
<path d="M27.1,485.2 L171,485.2" stroke="#eef2f8" stroke-width="0.8"/>
<path d="M27.1,496.1 L171,496.1" stroke="#eef2f8" stroke-width="0.8"/>
<path d="M27.1,507.0 L171,507.0" stroke="#eef2f8" stroke-width="0.8"/>
<path d="M27.1,518.0 L171,518.0" stroke="#eef2f8" stroke-width="0.8"/>
<path d="M27.1,528.9 L171,528.9" stroke="#eef2f8" stroke-width="0.8"/>
<path d="M27.1,539.8 L171,539.8" stroke="#eef2f8" stroke-width="0.8"/>
<path d="M27.1,550.7 L171,550.7" stroke="#eef2f8" stroke-width="0.8"/>
<path d="M27.1,561.6 L171,561.6" stroke="#eef2f8" stroke-width="0.8"/>
<path d="M27.1,572.6 L171,572.6" stroke="#eef2f8" stroke-width="0.8"/>
<path d="M27.1,583.5 L171,583.5" stroke="#eef2f8" stroke-width="0.8"/>
<path d="M27.1,479.6 L27.1,588.7" stroke="#eef2f8" stroke-width="0.8"/>
<path d="M63.3,479.6 L63.3,588.7" stroke="#eef2f8" stroke-width="0.8"/>
<path d="M99.5,479.6 L99.5,588.7" stroke="#eef2f8" stroke-width="0.8"/>
<path d="M135.7,479.6 L135.7,588.7" stroke="#eef2f8" stroke-width="0.8"/>
<rect x="27.1" y="480.4" width="143.9" height="10.1" fill="#5ad7fb" stroke="#3a3a3a" stroke-width="0.8"/>
<text x="35.5" y="488.0" font-size="6.3" text-anchor="start" font-weight="normal" fill="#1a1a1a" >Bile secretion</text>
<rect x="27.1" y="491.3" width="138.4" height="10.1" fill="#5ad7fb" stroke="#3a3a3a" stroke-width="0.8"/>
<text x="35.5" y="498.9" font-size="6.3" text-anchor="start" font-weight="normal" fill="#1a1a1a" >Osteoclast differentiation</text>
<path d="M27.1,479.6 L27.1,588.7 L171,588.7" fill="none" stroke="#555" stroke-width="1"/>
<text x="27.1" y="597.0" font-size="5.8" text-anchor="middle" font-weight="normal" fill="#333" >0</text>
<text x="63.3" y="597.0" font-size="5.8" text-anchor="middle" font-weight="normal" fill="#333" >0.4</text>
<text x="99.5" y="597.0" font-size="5.8" text-anchor="middle" font-weight="normal" fill="#333" >0.8</text>
<text x="135.7" y="597.0" font-size="5.8" text-anchor="middle" font-weight="normal" fill="#333" >1.2</text>
<text x="98.5" y="611.0" font-size="6.3" text-anchor="middle" font-weight="normal" fill="#333" >−Log10(p−Value)</text>
<text x="27.0" y="464.9" font-size="8.4" text-anchor="start" font-weight="bold" fill="#3b4766" >Mouse</text>
<path d="M193.6,485.2 L337.6,485.2" stroke="#eef2f8" stroke-width="0.8"/>
<path d="M193.6,496.1 L337.6,496.1" stroke="#eef2f8" stroke-width="0.8"/>
<path d="M193.6,507.0 L337.6,507.0" stroke="#eef2f8" stroke-width="0.8"/>
<path d="M193.6,518.0 L337.6,518.0" stroke="#eef2f8" stroke-width="0.8"/>
<path d="M193.6,528.9 L337.6,528.9" stroke="#eef2f8" stroke-width="0.8"/>
<path d="M193.6,539.8 L337.6,539.8" stroke="#eef2f8" stroke-width="0.8"/>
<path d="M193.6,550.7 L337.6,550.7" stroke="#eef2f8" stroke-width="0.8"/>
<path d="M193.6,561.6 L337.6,561.6" stroke="#eef2f8" stroke-width="0.8"/>
<path d="M193.6,572.6 L337.6,572.6" stroke="#eef2f8" stroke-width="0.8"/>
<path d="M193.6,583.5 L337.6,583.5" stroke="#eef2f8" stroke-width="0.8"/>
<path d="M193.6,479.6 L193.6,588.9" stroke="#eef2f8" stroke-width="0.8"/>
<path d="M230.6,479.6 L230.6,588.9" stroke="#eef2f8" stroke-width="0.8"/>
<path d="M267.6,479.6 L267.6,588.9" stroke="#eef2f8" stroke-width="0.8"/>
<path d="M304.6,479.6 L304.6,588.9" stroke="#eef2f8" stroke-width="0.8"/>
<rect x="193.6" y="480.4" width="144.0" height="10.1" fill="#5ad7fb" stroke="#3a3a3a" stroke-width="0.8"/>
<text x="195.6" y="488.0" font-size="6.3" text-anchor="start" font-weight="normal" fill="#1a1a1a" >Valine, leucine and isoleucine deg radation</text>
<rect x="193.6" y="491.3" width="117.9" height="10.1" fill="#5ad7fb" stroke="#3a3a3a" stroke-width="0.8"/>
<text x="195.6" y="498.9" font-size="6.3" text-anchor="start" font-weight="normal" fill="#1a1a1a" >Propanoate metabolism</text>
<rect x="193.6" y="502.2" width="84.4" height="10.1" fill="#5ad7fb" stroke="#3a3a3a" stroke-width="0.8"/>
<text x="195.6" y="509.8" font-size="6.3" text-anchor="start" font-weight="normal" fill="#1a1a1a" >Protein processing in endoplasmic reticulum</text>
<rect x="193.6" y="513.2" width="84.4" height="10.1" fill="#5ad7fb" stroke="#3a3a3a" stroke-width="0.8"/>
<text x="195.6" y="520.8" font-size="6.3" text-anchor="start" font-weight="normal" fill="#1a1a1a" >Oxidative phosphorylation</text>
<rect x="193.6" y="524.1" width="83.2" height="10.1" fill="#5ad7fb" stroke="#3a3a3a" stroke-width="0.8"/>
<text x="195.6" y="531.7" font-size="6.3" text-anchor="start" font-weight="normal" fill="#1a1a1a" >Huntington disease</text>
<rect x="193.6" y="535.0" width="80.7" height="10.1" fill="#5ad7fb" stroke="#3a3a3a" stroke-width="0.8"/>
<text x="195.6" y="542.6" font-size="6.3" text-anchor="start" font-weight="normal" fill="#1a1a1a" >Tryptophan metabolism</text>
<rect x="193.6" y="545.9" width="79.0" height="10.1" fill="#5ad7fb" stroke="#3a3a3a" stroke-width="0.8"/>
<text x="195.6" y="553.5" font-size="6.3" text-anchor="start" font-weight="normal" fill="#1a1a1a" >Ribosome</text>
<rect x="193.6" y="556.8" width="73.7" height="10.1" fill="#5ad7fb" stroke="#3a3a3a" stroke-width="0.8"/>
<text x="195.6" y="564.4" font-size="6.3" text-anchor="start" font-weight="normal" fill="#1a1a1a" >Glyoxylate and dicarboxylate metabolism</text>
<rect x="193.6" y="567.8" width="72.0" height="10.1" fill="#5ad7fb" stroke="#3a3a3a" stroke-width="0.8"/>
<text x="195.6" y="575.4" font-size="6.3" text-anchor="start" font-weight="normal" fill="#1a1a1a" >Non−alcoholic  fatty liver disease (NAFLD)</text>
<rect x="193.6" y="578.7" width="67.0" height="10.1" fill="#5ad7fb" stroke="#3a3a3a" stroke-width="0.8"/>
<text x="195.6" y="586.3" font-size="6.3" text-anchor="start" font-weight="normal" fill="#1a1a1a" >Thermogenesis</text>
<path d="M193.6,479.6 L193.6,588.9 L337.6,588.9" fill="none" stroke="#555" stroke-width="1"/>
<text x="193.6" y="597.2" font-size="5.8" text-anchor="middle" font-weight="normal" fill="#333" >0</text>
<text x="230.6" y="597.2" font-size="5.8" text-anchor="middle" font-weight="normal" fill="#333" >2</text>
<text x="267.6" y="597.2" font-size="5.8" text-anchor="middle" font-weight="normal" fill="#333" >4</text>
<text x="304.6" y="597.2" font-size="5.8" text-anchor="middle" font-weight="normal" fill="#333" >6</text>
<text x="265.1" y="611.0" font-size="6.3" text-anchor="middle" font-weight="normal" fill="#333" >−Log10(p−Value)</text>
<text x="193.6" y="464.9" font-size="8.4" text-anchor="start" font-weight="bold" fill="#3b4766" >Both</text>
<path d="M359.8,485.2 L503.9,485.2" stroke="#eef2f8" stroke-width="0.8"/>
<path d="M359.8,496.1 L503.9,496.1" stroke="#eef2f8" stroke-width="0.8"/>
<path d="M359.8,507.0 L503.9,507.0" stroke="#eef2f8" stroke-width="0.8"/>
<path d="M359.8,518.0 L503.9,518.0" stroke="#eef2f8" stroke-width="0.8"/>
<path d="M359.8,528.9 L503.9,528.9" stroke="#eef2f8" stroke-width="0.8"/>
<path d="M359.8,539.8 L503.9,539.8" stroke="#eef2f8" stroke-width="0.8"/>
<path d="M359.8,550.7 L503.9,550.7" stroke="#eef2f8" stroke-width="0.8"/>
<path d="M359.8,561.6 L503.9,561.6" stroke="#eef2f8" stroke-width="0.8"/>
<path d="M359.8,572.6 L503.9,572.6" stroke="#eef2f8" stroke-width="0.8"/>
<path d="M359.8,583.5 L503.9,583.5" stroke="#eef2f8" stroke-width="0.8"/>
<path d="M359.8,479.6 L359.8,589.0" stroke="#eef2f8" stroke-width="0.8"/>
<path d="M394.2,479.6 L394.2,589.0" stroke="#eef2f8" stroke-width="0.8"/>
<path d="M428.5,479.6 L428.5,589.0" stroke="#eef2f8" stroke-width="0.8"/>
<path d="M462.9,479.6 L462.9,589.0" stroke="#eef2f8" stroke-width="0.8"/>
<path d="M497.2,479.6 L497.2,589.0" stroke="#eef2f8" stroke-width="0.8"/>
<rect x="359.8" y="480.4" width="144.1" height="10.1" fill="#5ad7fb" stroke="#3a3a3a" stroke-width="0.8"/>
<text x="363.6" y="488.0" font-size="6.3" text-anchor="start" font-weight="normal" fill="#1a1a1a" >Insulin signaling path  way</text>
<rect x="359.8" y="491.3" width="82.0" height="10.1" fill="#5ad7fb" stroke="#3a3a3a" stroke-width="0.8"/>
<text x="363.6" y="498.9" font-size="6.3" text-anchor="start" font-weight="normal" fill="#1a1a1a" >mRNA su rveillance path way</text>
<rect x="359.8" y="502.2" width="77.8" height="10.1" fill="#5ad7fb" stroke="#3a3a3a" stroke-width="0.8"/>
<text x="363.6" y="509.8" font-size="6.3" text-anchor="start" font-weight="normal" fill="#1a1a1a" >Tight junction</text>
<rect x="359.8" y="513.2" width="77.8" height="10.1" fill="#5ad7fb" stroke="#3a3a3a" stroke-width="0.8"/>
<text x="363.6" y="520.8" font-size="6.3" text-anchor="start" font-weight="normal" fill="#1a1a1a" >AMPK signaling path  way</text>
<rect x="359.8" y="524.1" width="74.6" height="10.1" fill="#5ad7fb" stroke="#3a3a3a" stroke-width="0.8"/>
<text x="363.6" y="531.7" font-size="6.3" text-anchor="start" font-weight="normal" fill="#1a1a1a" >Thermogenesis</text>
<rect x="359.8" y="535.0" width="74.6" height="10.1" fill="#5ad7fb" stroke="#3a3a3a" stroke-width="0.8"/>
<text x="363.6" y="542.6" font-size="6.3" text-anchor="start" font-weight="normal" fill="#1a1a1a" >Ras signaling path way</text>
<rect x="359.8" y="545.9" width="74.6" height="10.1" fill="#5ad7fb" stroke="#3a3a3a" stroke-width="0.8"/>
<text x="363.6" y="553.5" font-size="6.3" text-anchor="start" font-weight="normal" fill="#1a1a1a" >HIF−1 signaling path  way</text>
<rect x="359.8" y="556.8" width="74.6" height="10.1" fill="#5ad7fb" stroke="#3a3a3a" stroke-width="0.8"/>
<text x="363.6" y="564.4" font-size="6.3" text-anchor="start" font-weight="normal" fill="#1a1a1a" >ErbB signaling path way</text>
<rect x="359.8" y="567.8" width="69.6" height="10.1" fill="#5ad7fb" stroke="#3a3a3a" stroke-width="0.8"/>
<text x="363.6" y="575.4" font-size="6.3" text-anchor="start" font-weight="normal" fill="#1a1a1a" >PI3K−Akt signaling path  way</text>
<rect x="359.8" y="578.7" width="69.1" height="10.1" fill="#5ad7fb" stroke="#3a3a3a" stroke-width="0.8"/>
<text x="363.6" y="586.3" font-size="6.3" text-anchor="start" font-weight="normal" fill="#1a1a1a" >Focal adhesion</text>
<path d="M359.8,479.6 L359.8,589.0 L503.9,589.0" fill="none" stroke="#555" stroke-width="1"/>
<text x="359.8" y="597.3" font-size="5.8" text-anchor="middle" font-weight="normal" fill="#333" >0</text>
<text x="394.2" y="597.3" font-size="5.8" text-anchor="middle" font-weight="normal" fill="#333" >1</text>
<text x="428.5" y="597.3" font-size="5.8" text-anchor="middle" font-weight="normal" fill="#333" >2</text>
<text x="462.9" y="597.3" font-size="5.8" text-anchor="middle" font-weight="normal" fill="#333" >3</text>
<text x="497.2" y="597.3" font-size="5.8" text-anchor="middle" font-weight="normal" fill="#333" >4</text>
<text x="431.4" y="611.0" font-size="6.3" text-anchor="middle" font-weight="normal" fill="#333" >−Log10(p−Value)</text>
<text x="360.4" y="464.9" font-size="8.4" text-anchor="start" font-weight="bold" fill="#3b4766" >Human</text>
<path d="M512.6,450 L512.6,619" stroke="#d6d6d6" stroke-width="1"/>
<clipPath id="dM"><circle cx="598.2" cy="508.2" r="47.2" fill="#000" /></clipPath><clipPath id="dH"><circle cx="636.9" cy="510.5" r="45.6" fill="#000" /></clipPath>
<circle cx="598.2" cy="508.2" r="47.2" fill="#c4f6da" />
<circle cx="636.9" cy="510.5" r="45.6" fill="#e5e8fb" />
<g clip-path="url(#dM)"><circle cx="636.9" cy="510.5" r="45.6" fill="#b5e6dc" /></g>
<circle cx="612.8" cy="549.9" r="47.6" fill="#fdefd0" />
<g clip-path="url(#dM)"><circle cx="612.8" cy="549.9" r="47.6" fill="#dcf0c2" /></g>
<g clip-path="url(#dH)"><circle cx="612.8" cy="549.9" r="47.6" fill="#ece4d8" /></g>
<g clip-path="url(#dM)"><g clip-path="url(#dH)"><circle cx="612.8" cy="549.9" r="47.6" fill="#c8e5c6" /></g></g>
<circle cx="598.2" cy="508.2" r="47.2" fill="none" stroke="#c6d8cc" stroke-width="0.7"/>
<circle cx="636.9" cy="510.5" r="45.6" fill="none" stroke="#cbd0e2" stroke-width="0.7"/>
<circle cx="612.8" cy="549.9" r="47.6" fill="none" stroke="#eadcc4" stroke-width="0.7"/>
<text x="589.7" y="458.2" font-size="9.8" text-anchor="middle" font-weight="bold" fill="#22b04a" >Mouse</text>
<text x="644.8" y="458.2" font-size="9.8" text-anchor="middle" font-weight="bold" fill="#2a4fc0" >Human</text>
<text x="571.3" y="501.0" font-size="9.6" text-anchor="middle" font-weight="bold" fill="#333" >2202</text>
<text x="619.9" y="494.6" font-size="9.6" text-anchor="middle" font-weight="bold" fill="#333" >1635</text>
<text x="663.3" y="511.2" font-size="9.6" text-anchor="middle" font-weight="bold" fill="#333" >1657</text>
<text x="616.0" y="526.5" font-size="9.6" text-anchor="middle" font-weight="bold" fill="#333" >1142</text>
<text x="582.8" y="541.4" font-size="9.6" text-anchor="middle" font-weight="bold" fill="#333" >1414</text>
<text x="647.2" y="547.5" font-size="9.6" text-anchor="middle" font-weight="bold" fill="#333" >977</text>
<text x="613.0" y="576.9" font-size="9.6" text-anchor="middle" font-weight="bold" fill="#333" >2308</text>
<text x="619.2" y="607.0" font-size="9.38" text-anchor="middle" font-weight="bold" fill="#d38e50" >REV-ERB reguated genes</text>
<path d="M60.0,674.2 L60.0,790.2 L148.2,790.2" fill="none" stroke="#555" stroke-width="1"/>
<path d="M57.0,790.2 L60.0,790.2" stroke="#555" stroke-width="1"/>
<text x="55.4" y="794.1" font-size="10.8" text-anchor="end" font-weight="normal" fill="#000" >0</text>
<path d="M57.0,761.2 L60.0,761.2" stroke="#555" stroke-width="1"/>
<text x="56.2" y="765.1" font-size="10.8" text-anchor="end">5×10<tspan font-size="7.2" dx="1.5" dy="-3.3">6</tspan></text>
<path d="M57.0,732.2 L60.0,732.2" stroke="#555" stroke-width="1"/>
<text x="56.2" y="736.1" font-size="10.8" text-anchor="end">1×10<tspan font-size="7.2" dx="1.5" dy="-3.3">7</tspan></text>
<path d="M57.0,703.2 L60.0,703.2" stroke="#555" stroke-width="1"/>
<text x="56.2" y="707.1" font-size="10.8" text-anchor="end">1.5×10<tspan font-size="7.2" dx="1.5" dy="-3.3">7</tspan></text>
<path d="M57.0,674.2 L60.0,674.2" stroke="#555" stroke-width="1"/>
<text x="56.2" y="678.1" font-size="10.8" text-anchor="end">2×10<tspan font-size="7.2" dx="1.5" dy="-3.3">7</tspan></text>
<text x="0" y="0" font-size="11" text-anchor="middle" transform="translate(13.6,730.5) rotate(-90)">pC/pgRNA copies</text>
<rect x="71.7" y="700.5" width="21" height="89.7" fill="#5d5d5d" stroke="#333" stroke-width="1"/>
<rect x="115.4" y="738.7" width="21" height="51.5" fill="#0a2fd0" stroke="#333" stroke-width="1"/>
<path d="M82.3,700.5 L82.3,681.6 M78.8,681.6 L86.5,681.6 M126.0,738.7 L126.0,729.3 M121,729.3 L131.3,729.3" stroke="#666" stroke-width="1"/>
<circle cx="82.4" cy="681.6" r="1.8" fill="#fff" stroke="#888" stroke-width="0.7"/>
<circle cx="82.4" cy="719.4" r="1.8" fill="#fff" stroke="#888" stroke-width="0.7"/>
<circle cx="126.2" cy="726.3" r="1.8" fill="#fff" stroke="#888" stroke-width="0.7"/>
<circle cx="126.2" cy="731.8" r="1.8" fill="#fff" stroke="#888" stroke-width="0.7"/>
<circle cx="126.2" cy="757.3" r="1.8" fill="#fff" stroke="#888" stroke-width="0.7"/>
<text x="82.0" y="805.1" font-size="11" text-anchor="middle" font-weight="normal" fill="#000" >Vehicle</text>
<text x="126.2" y="805.1" font-size="11" text-anchor="middle" font-weight="normal" fill="#000" >SR9009</text>
<path d="M222.6,674.7 L222.6,789.7 L332.1,789.7" fill="none" stroke="#555" stroke-width="1"/>
<path d="M219.6,789.7 L222.6,789.7" stroke="#555" stroke-width="1"/>
<text x="218.4" y="793.7" font-size="11" text-anchor="end" font-weight="normal" fill="#000" >0.0</text>
<path d="M219.6,751.4 L222.6,751.4" stroke="#555" stroke-width="1"/>
<text x="218.4" y="755.4" font-size="11" text-anchor="end" font-weight="normal" fill="#000" >0.5</text>
<path d="M219.6,713.0 L222.6,713.0" stroke="#555" stroke-width="1"/>
<text x="218.4" y="717.0" font-size="11" text-anchor="end" font-weight="normal" fill="#000" >1.0</text>
<path d="M219.6,674.7 L222.6,674.7" stroke="#555" stroke-width="1"/>
<text x="218.4" y="678.7" font-size="11" text-anchor="end" font-weight="normal" fill="#000" >1.5</text>
<text x="0" y="0" font-size="11" text-anchor="middle" transform="translate(197.0,729.9) rotate(-90)">HBeAg (norm. to Week0)</text>
<rect x="230.4" y="713.0" width="14.2" height="76.7" fill="#808080" stroke="#333" stroke-width="1"/>
<circle cx="233.8" cy="713.1" r="1.8" fill="#e6e6e6" stroke="#555" stroke-width="0.7"/>
<circle cx="237.2" cy="713.1" r="1.8" fill="#e6e6e6" stroke="#555" stroke-width="0.7"/>
<circle cx="240.6" cy="713.1" r="1.8" fill="#e6e6e6" stroke="#555" stroke-width="0.7"/>
<path d="M259.4,714.2 L259.4,709.2 M255.5,709.2 L262.5,709.2" stroke="#444" stroke-width="0.9"/>
<rect x="252.2" y="714.2" width="14.2" height="75.5" fill="#f04444" stroke="#333" stroke-width="1"/>
<circle cx="259.3" cy="709.6" r="1.8" fill="#e6e6e6" stroke="#555" stroke-width="0.7"/>
<circle cx="259.3" cy="719.0" r="1.8" fill="#e6e6e6" stroke="#555" stroke-width="0.7"/>
<rect x="288.7" y="713.0" width="14.2" height="76.7" fill="#808080" stroke="#333" stroke-width="1"/>
<circle cx="291.6" cy="713.1" r="1.8" fill="#e6e6e6" stroke="#555" stroke-width="0.7"/>
<circle cx="295.8" cy="713.1" r="1.8" fill="#e6e6e6" stroke="#555" stroke-width="0.7"/>
<circle cx="300.2" cy="713.1" r="1.8" fill="#e6e6e6" stroke="#555" stroke-width="0.7"/>
<path d="M317.6,735.3 L317.6,733.4 M315.3,733.4 L320.0,733.4" stroke="#444" stroke-width="0.9"/>
<rect x="310.4" y="735.3" width="14.2" height="54.4" fill="#f04444" stroke="#333" stroke-width="1"/>
<circle cx="314.1" cy="731.6" r="1.8" fill="#e6e6e6" stroke="#555" stroke-width="0.7"/>
<circle cx="320.9" cy="734.5" r="1.8" fill="#e6e6e6" stroke="#555" stroke-width="0.7"/>
<circle cx="317.7" cy="739.3" r="1.8" fill="#e6e6e6" stroke="#555" stroke-width="0.7"/>
<path d="M229.6,695.0 L263.3,695.0" stroke="#333" stroke-width="1"/>
<text x="246.4" y="693.3" font-size="11" text-anchor="middle" font-weight="normal" fill="#000" >n.s.</text>
<path d="M291.9,695.5 L325.0,695.5" stroke="#333" stroke-width="1"/>
<polygon points="302.95,689.00 303.54,690.59 305.23,690.66 303.90,691.71 304.36,693.34 302.95,692.40 301.54,693.34 302.00,691.71 300.67,690.66 302.36,690.59" fill="#111"/>
<polygon points="308.45,689.00 309.04,690.59 310.73,690.66 309.40,691.71 309.86,693.34 308.45,692.40 307.04,693.34 307.50,691.71 306.17,690.66 307.86,690.59" fill="#111"/>
<polygon points="313.95,689.00 314.54,690.59 316.23,690.66 314.90,691.71 315.36,693.34 313.95,692.40 312.54,693.34 313.00,691.71 311.67,690.66 313.36,690.59" fill="#111"/>
<rect x="231.0" y="668.0" width="12.4" height="7.8" fill="#808080" stroke="#333" stroke-width="1"/>
<text x="250.5" y="676.3" font-size="11" text-anchor="start" font-weight="normal" fill="#000" >W0</text>
<rect x="274.0" y="668.0" width="12.4" height="7.8" fill="#f04444" stroke="#333" stroke-width="1"/>
<text x="293.0" y="676.3" font-size="11" text-anchor="start" font-weight="normal" fill="#000" >W2</text>
<path d="M248.5,789.7 L248.5,793.0" stroke="#555" stroke-width="1"/>
<path d="M306.5,789.7 L306.5,793.0" stroke="#555" stroke-width="1"/>
<path d="M382.2,675.2 L382.2,790.2 L491.6,790.2" fill="none" stroke="#555" stroke-width="1"/>
<path d="M379.2,790.2 L382.2,790.2" stroke="#555" stroke-width="1"/>
<text x="378.0" y="794.2" font-size="11" text-anchor="end" font-weight="normal" fill="#000" >0.0</text>
<path d="M379.2,751.9 L382.2,751.9" stroke="#555" stroke-width="1"/>
<text x="378.0" y="755.9" font-size="11" text-anchor="end" font-weight="normal" fill="#000" >0.5</text>
<path d="M379.2,713.5 L382.2,713.5" stroke="#555" stroke-width="1"/>
<text x="378.0" y="717.5" font-size="11" text-anchor="end" font-weight="normal" fill="#000" >1.0</text>
<path d="M379.2,675.2 L382.2,675.2" stroke="#555" stroke-width="1"/>
<text x="378.0" y="679.2" font-size="11" text-anchor="end" font-weight="normal" fill="#000" >1.5</text>
<text x="0" y="0" font-size="11" text-anchor="middle" transform="translate(356.8,730.4) rotate(-90)">HBsAg (norm. to Week0)</text>
<rect x="389.4" y="713.5" width="14.2" height="76.7" fill="#808080" stroke="#333" stroke-width="1"/>
<circle cx="392.6" cy="713.6" r="1.8" fill="#e6e6e6" stroke="#555" stroke-width="0.7"/>
<circle cx="396.5" cy="713.6" r="1.8" fill="#e6e6e6" stroke="#555" stroke-width="0.7"/>
<circle cx="400.4" cy="713.6" r="1.8" fill="#e6e6e6" stroke="#555" stroke-width="0.7"/>
<rect x="411.8" y="704.0" width="14.2" height="86.2" fill="#f04444" stroke="#333" stroke-width="1"/>
<circle cx="415.5" cy="704.2" r="1.8" fill="#e6e6e6" stroke="#555" stroke-width="0.7"/>
<circle cx="422.0" cy="704.2" r="1.8" fill="#e6e6e6" stroke="#555" stroke-width="0.7"/>
<rect x="448.4" y="713.5" width="14.2" height="76.7" fill="#808080" stroke="#333" stroke-width="1"/>
<circle cx="451.6" cy="713.6" r="1.8" fill="#e6e6e6" stroke="#555" stroke-width="0.7"/>
<circle cx="455.5" cy="713.6" r="1.8" fill="#e6e6e6" stroke="#555" stroke-width="0.7"/>
<circle cx="459.4" cy="713.6" r="1.8" fill="#e6e6e6" stroke="#555" stroke-width="0.7"/>
<path d="M477.3,713.5 L477.3,710.5 M474.0,710.5 L481.0,710.5" stroke="#444" stroke-width="0.9"/>
<rect x="470.1" y="713.5" width="14.2" height="76.7" fill="#f04444" stroke="#333" stroke-width="1"/>
<circle cx="474.0" cy="710.5" r="1.8" fill="#e6e6e6" stroke="#555" stroke-width="0.7"/>
<circle cx="480.5" cy="711.5" r="1.8" fill="#e6e6e6" stroke="#555" stroke-width="0.7"/>
<circle cx="477.0" cy="718.5" r="1.8" fill="#e6e6e6" stroke="#555" stroke-width="0.7"/>
<path d="M391.1,692.4 L424.3,692.4" stroke="#333" stroke-width="1"/>
<polygon points="407.70,685.20 408.29,686.79 409.98,686.86 408.65,687.91 409.11,689.54 407.70,688.60 406.29,689.54 406.75,687.91 405.42,686.86 407.11,686.79" fill="#111"/>
<path d="M451.2,698.8 L484.9,698.8" stroke="#333" stroke-width="1"/>
<text x="468.0" y="696.1" font-size="11" text-anchor="middle" font-weight="normal" fill="#000" >n.s.</text>
<rect x="391.1" y="668.0" width="12.4" height="7.8" fill="#808080" stroke="#333" stroke-width="1"/>
<text x="410.6" y="676.3" font-size="11" text-anchor="start" font-weight="normal" fill="#000" >W0</text>
<rect x="434.1" y="668.0" width="12.4" height="7.8" fill="#f04444" stroke="#333" stroke-width="1"/>
<text x="453.1" y="676.3" font-size="11" text-anchor="start" font-weight="normal" fill="#000" >W2</text>
<path d="M407.5,790.2 L407.5,793.5" stroke="#555" stroke-width="1"/>
<path d="M466.4,790.2 L466.4,793.5" stroke="#555" stroke-width="1"/>
<text x="248.3" y="805.1" font-size="11" text-anchor="middle" font-weight="normal" fill="#000" >Vehicle</text>
<text x="306.6" y="805.1" font-size="11" text-anchor="middle" font-weight="normal" fill="#000" >SR9009</text>
<text x="408.0" y="805.1" font-size="11" text-anchor="middle" font-weight="normal" fill="#000" >Vehicle</text>
<text x="466.0" y="805.1" font-size="11" text-anchor="middle" font-weight="normal" fill="#000" >SR9009</text>
<path d="M558.2,672.2 L558.2,790.1 L661.8,790.1" fill="none" stroke="#555" stroke-width="1"/>
<path d="M555.2,790.1 L558.2,790.1" stroke="#555" stroke-width="1"/>
<path d="M556.2,778.3 L558.2,778.3" stroke="#777" stroke-width="0.6"/>
<path d="M556.2,771.3 L558.2,771.3" stroke="#777" stroke-width="0.6"/>
<path d="M556.2,766.4 L558.2,766.4" stroke="#777" stroke-width="0.6"/>
<path d="M556.2,762.6 L558.2,762.6" stroke="#777" stroke-width="0.6"/>
<path d="M556.2,759.5 L558.2,759.5" stroke="#777" stroke-width="0.6"/>
<path d="M556.2,756.9 L558.2,756.9" stroke="#777" stroke-width="0.6"/>
<path d="M556.2,754.6 L558.2,754.6" stroke="#777" stroke-width="0.6"/>
<path d="M556.2,752.6 L558.2,752.6" stroke="#777" stroke-width="0.6"/>
<text x="553.4" y="793.9" font-size="10.8" text-anchor="end">10<tspan font-size="7.4" dx="1.5" dy="-3.4">7</tspan></text>
<path d="M555.2,750.8 L558.2,750.8" stroke="#555" stroke-width="1"/>
<path d="M556.2,739.0 L558.2,739.0" stroke="#777" stroke-width="0.6"/>
<path d="M556.2,732.0 L558.2,732.0" stroke="#777" stroke-width="0.6"/>
<path d="M556.2,727.1 L558.2,727.1" stroke="#777" stroke-width="0.6"/>
<path d="M556.2,723.3 L558.2,723.3" stroke="#777" stroke-width="0.6"/>
<path d="M556.2,720.2 L558.2,720.2" stroke="#777" stroke-width="0.6"/>
<path d="M556.2,717.6 L558.2,717.6" stroke="#777" stroke-width="0.6"/>
<path d="M556.2,715.3 L558.2,715.3" stroke="#777" stroke-width="0.6"/>
<path d="M556.2,713.3 L558.2,713.3" stroke="#777" stroke-width="0.6"/>
<text x="553.4" y="754.6" font-size="10.8" text-anchor="end">10<tspan font-size="7.4" dx="1.5" dy="-3.4">8</tspan></text>
<path d="M555.2,711.5 L558.2,711.5" stroke="#555" stroke-width="1"/>
<path d="M556.2,699.7 L558.2,699.7" stroke="#777" stroke-width="0.6"/>
<path d="M556.2,692.7 L558.2,692.7" stroke="#777" stroke-width="0.6"/>
<path d="M556.2,687.8 L558.2,687.8" stroke="#777" stroke-width="0.6"/>
<path d="M556.2,684.0 L558.2,684.0" stroke="#777" stroke-width="0.6"/>
<path d="M556.2,680.9 L558.2,680.9" stroke="#777" stroke-width="0.6"/>
<path d="M556.2,678.3 L558.2,678.3" stroke="#777" stroke-width="0.6"/>
<path d="M556.2,676.0 L558.2,676.0" stroke="#777" stroke-width="0.6"/>
<path d="M556.2,674.0 L558.2,674.0" stroke="#777" stroke-width="0.6"/>
<text x="553.4" y="715.3" font-size="10.8" text-anchor="end">10<tspan font-size="7.4" dx="1.5" dy="-3.4">9</tspan></text>
<path d="M555.2,672.2 L558.2,672.2" stroke="#555" stroke-width="1"/>
<text x="553.4" y="676.0" font-size="10.8" text-anchor="end">10<tspan font-size="7.4" dx="1.5" dy="-3.4">10</tspan></text>
<path d="M575.6,790.1 L575.6,793.1" stroke="#555" stroke-width="1"/>
<text x="575.6" y="805.5" font-size="10.8" text-anchor="middle" font-weight="normal" fill="#000" >0</text>
<path d="M610.1,790.1 L610.1,793.1" stroke="#555" stroke-width="1"/>
<text x="610.1" y="805.5" font-size="10.8" text-anchor="middle" font-weight="normal" fill="#000" >1</text>
<path d="M644.4,790.1 L644.4,793.1" stroke="#555" stroke-width="1"/>
<text x="644.4" y="805.5" font-size="10.8" text-anchor="middle" font-weight="normal" fill="#000" >2</text>
<text x="609.9" y="815.4" font-size="11.4" text-anchor="middle" font-weight="normal" fill="#000" >Weeks</text>
<text x="0" y="0" font-size="11.2" text-anchor="middle" transform="translate(527.6,730.5) rotate(-90)">HBV DNA (copies/ml)</text>
<polyline points="575.4,716.0 610.0,716.3 644.4,713.4" fill="none" stroke="#555" stroke-width="1"/>
<path d="M644.4,708.9 L644.4,719.2 M642.4,719.2 L646.4,719.2 M610.0,713.5 L610.0,719 M608.3,719 L611.7,719" stroke="#444" stroke-width="0.9"/>
<circle cx="575.4" cy="716.0" r="2.4" fill="#333"/>
<circle cx="610.0" cy="716.3" r="2.4" fill="#333"/>
<circle cx="644.4" cy="713.4" r="2.4" fill="#333"/>
<polyline points="575.4,707.5 610.0,711.8 644.4,707.5" fill="none" stroke="#2a4ae8" stroke-width="0.9"/>
<path d="M575.4,704.8 L575.4,710.3 M573.4,704.8 L577.4,704.8 M573.4,710.3 L577.4,710.3" stroke="#1a3be0" stroke-width="0.9"/>
<path d="M610.0,708.3 L610.0,715.6 M608.0,708.3 L612.0,708.3 M608.0,715.6 L612.0,715.6" stroke="#1a3be0" stroke-width="0.9"/>
<path d="M644.4,704.5 L644.4,710.6 M642.4,704.5 L646.4,704.5 M642.4,710.6 L646.4,710.6" stroke="#1a3be0" stroke-width="0.9"/>
<circle cx="575.4" cy="707.5" r="2.4" fill="#1434e0"/>
<circle cx="610.0" cy="711.8" r="2.4" fill="#1434e0"/>
<circle cx="644.4" cy="707.5" r="2.4" fill="#1434e0"/>
<path d="M570.3,760.6 L583.6,760.6" stroke="#444" stroke-width="1"/><circle cx="577" cy="760.6" r="2.1" fill="#333"/>
<path d="M570.3,774.5 L583.6,774.5" stroke="#1a3be0" stroke-width="1"/><circle cx="577" cy="774.5" r="2.1" fill="#1a3be0"/>
<text x="590.6" y="764.9" font-size="11.2" text-anchor="start" font-weight="normal" fill="#000" >Vehicle</text>
<text x="590.6" y="778.6" font-size="11.2" text-anchor="start" font-weight="normal" fill="#000" >SR9009</text>
</svg>
</body></html>
